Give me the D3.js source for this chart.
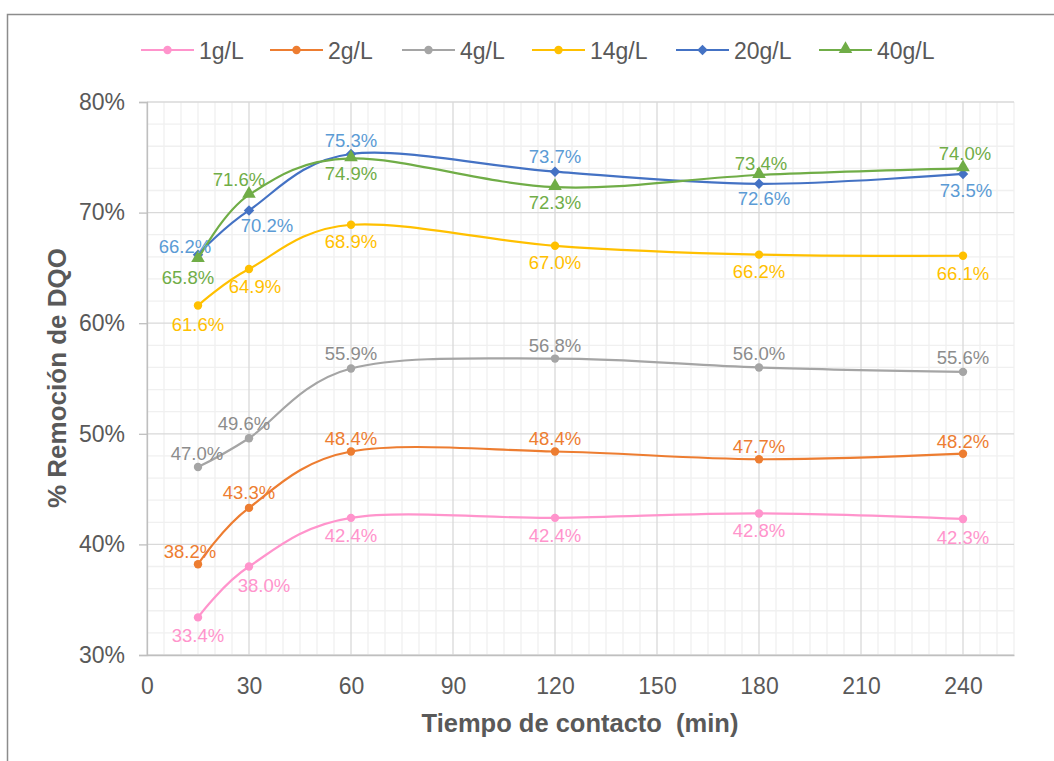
<!DOCTYPE html>
<html>
<head>
<meta charset="utf-8">
<script src="https://cdn.jsdelivr.net/npm/d3@7"></script>
<style>
  html, body { margin: 0; padding: 0; background: #fff; }
  svg { display: block; font-family: "Liberation Sans", Arial, sans-serif; }
</style>
</head>
<body>
<svg id="chart" width="1054" height="761"></svg>
<script>
// Contact time (min) at which samples were taken
const times = [15, 30, 60, 120, 180, 240];

// COD removal (%) for each adsorbent dose
const seriesNames = ["1g/L", "2g/L", "4g/L", "14g/L", "20g/L", "40g/L"];
const dose1 = [33.4, 38.0, 42.4, 42.4, 42.8, 42.3];
const dose2 = [38.2, 43.3, 48.4, 48.4, 47.7, 48.2];
const dose4 = [47.0, 49.6, 55.9, 56.8, 56.0, 55.6];
const dose14 = [61.6, 64.9, 68.9, 67.0, 66.2, 66.1];
const dose20 = [66.2, 70.2, 75.3, 73.7, 72.6, 73.5];
const dose40 = [65.8, 71.6, 74.9, 72.3, 73.4, 74.0];

// Axis ticks
const xTicks = [0, 30, 60, 90, 120, 150, 180, 210, 240];
const yTicks = [30, 40, 50, 60, 70, 80];

// Styling per series
const lineColors = ["#ff94cc", "#ed7d31", "#a5a5a5", "#ffc000", "#4472c4", "#70ad47"];
const labelColors = ["#ff94cc", "#ed7d31", "#8c8c8c", "#ffc000", "#5b9bd5", "#70ad47"];
const markerShapes = ["circle", "circle", "circle", "circle", "diamond", "triangle"];

// Data-label offsets [dx, dy] from the point, per series
const labelOffsets = [
  [[0, 18], [15, 19], [0, 18], [0, 18], [0, 17], [0, 19]],
  [[-8, -13], [0, -15], [0, -13], [0, -13], [0, -13], [0, -12]],
  [[-1, -13], [-5, -15], [0, -15], [0, -13], [0, -14], [0, -14]],
  [[0, 19], [6, 17], [0, 17], [0, 17], [0, 17], [0, 18]],
  [[-13, -8], [18, 15], [0, -13], [0, -15], [5, 15], [3, 17]],
  [[-10, 18], [-10, -15], [0, 15], [0, 15], [2, -11], [2, -15]]
];

const seriesValues = [dose1, dose2, dose4, dose14, dose20, dose40];

const svg = d3.select("#chart");
const W = 1054, H = 761;
const textColor = "#595959";

// Outer chart frame
svg.append("rect")
  .attr("x", 7.5).attr("y", 14.5)
  .attr("width", W + 10).attr("height", H + 10)
  .attr("fill", "#fff")
  .attr("stroke", "#8c8c8c").attr("stroke-width", 1.5);

const plot = { left: 147, right: 1014, top: 102, bottom: 655 };

const x = d3.scaleLinear().domain([0, 255]).range([plot.left, plot.right]);
const y = d3.scaleLinear().domain([30, 80]).range([plot.bottom, plot.top]);

const g = svg.append("g");

// Minor grid
const xMinor = d3.range(0, 256, 5).filter(v => v % 30 !== 0);
const yMinor = d3.range(30, 80.01, 2).filter(v => Math.round(v) % 10 !== 0);
g.selectAll("line.xminor").data(xMinor).join("line")
  .attr("x1", d => x(d)).attr("x2", d => x(d))
  .attr("y1", plot.top).attr("y2", plot.bottom)
  .attr("stroke", "#f0f0f0").attr("stroke-width", 1.3);
g.selectAll("line.yminor").data(yMinor).join("line")
  .attr("x1", plot.left).attr("x2", plot.right)
  .attr("y1", d => y(d)).attr("y2", d => y(d))
  .attr("stroke", "#f0f0f0").attr("stroke-width", 1.3);

// Major grid
g.selectAll("line.xmajor").data(xTicks).join("line")
  .attr("x1", d => x(d)).attr("x2", d => x(d))
  .attr("y1", plot.top).attr("y2", plot.bottom)
  .attr("stroke", "#d9d9d9").attr("stroke-width", 1.3);
g.selectAll("line.ymajor").data(yTicks).join("line")
  .attr("x1", plot.left).attr("x2", plot.right)
  .attr("y1", d => y(d)).attr("y2", d => y(d))
  .attr("stroke", "#d9d9d9").attr("stroke-width", 1.3);

// Axes
const yAxis = d3.axisLeft(y).tickValues(yTicks).tickSize(8).tickPadding(14)
  .tickFormat(d => d + "%");
const yAxisG = svg.append("g").attr("transform", `translate(${plot.left},0)`).call(yAxis);
yAxisG.select(".domain").attr("stroke", "#bfbfbf").attr("stroke-width", 1.3);
yAxisG.selectAll(".tick line").attr("stroke", "#bfbfbf").attr("stroke-width", 1.3);
yAxisG.selectAll(".tick text").attr("fill", textColor).attr("font-size", 23)
  .attr("font-family", "Liberation Sans, Arial, sans-serif");

const xAxis = d3.axisBottom(x).tickValues(xTicks).tickSize(0).tickPadding(23);
const xAxisG = svg.append("g").attr("transform", `translate(0,${plot.bottom})`).call(xAxis);
xAxisG.select(".domain").attr("stroke", "#bfbfbf").attr("stroke-width", 1.3);
xAxisG.selectAll(".tick text").attr("fill", textColor).attr("font-size", 23)
  .attr("font-family", "Liberation Sans, Arial, sans-serif");

// Axis titles
svg.append("text")
  .attr("x", 580).attr("y", 723)
  .attr("text-anchor", "middle").attr("dominant-baseline", "central")
  .attr("font-size", 25.5).attr("font-weight", "bold").attr("fill", textColor)
  .attr("xml:space", "preserve")
  .text("Tiempo de contacto  (min)");
svg.append("text")
  .attr("transform", "translate(57,378) rotate(-90)")
  .attr("text-anchor", "middle").attr("dominant-baseline", "central")
  .attr("font-size", 26).attr("font-weight", "bold").attr("fill", textColor)
  .text("% Remoción de DQO");

// Marker drawing helper
function drawMarker(sel, shape, color) {
  if (shape === "circle") {
    sel.append("circle").attr("r", 4.2).attr("fill", color);
  } else if (shape === "diamond") {
    sel.append("path").attr("d", d3.symbol(d3.symbolDiamond2, 70)()).attr("fill", color);
  } else {
    sel.append("path").attr("d", d3.symbol(d3.symbolTriangle, 80)()).attr("fill", color)
      .attr("transform", "translate(0,-1)");
  }
}

const line = d3.line()
  .x(d => x(d.t)).y(d => y(d.v))
  .curve(d3.curveCatmullRom.alpha(0));

// Lines and markers
seriesValues.forEach((vals, i) => {
  const pts = times.map((t, j) => ({ t, v: vals[j], j }));
  const sg = svg.append("g");
  sg.append("path").datum(pts)
    .attr("d", line)
    .attr("fill", "none")
    .attr("stroke", lineColors[i]).attr("stroke-width", 2.2)
    .attr("stroke-linejoin", "round");
  pts.forEach(p => {
    const m = sg.append("g").attr("transform", `translate(${x(p.t)},${y(p.v)})`);
    drawMarker(m, markerShapes[i], lineColors[i]);
  });
});

// Data labels
seriesValues.forEach((vals, i) => {
  const pts = times.map((t, j) => ({ t, v: vals[j], j }));
  svg.append("g").selectAll("text").data(pts).join("text")
    .attr("x", d => x(d.t) + labelOffsets[i][d.j][0])
    .attr("y", d => y(d.v) + labelOffsets[i][d.j][1])
    .attr("text-anchor", "middle").attr("dominant-baseline", "central")
    .attr("font-size", 18.5).attr("fill", labelColors[i])
    .text(d => d.v.toFixed(1) + "%");
});

// Legend
const legendX = [141, 270, 402, 532, 676, 819];
const legendY = 50;
seriesNames.forEach((name, i) => {
  const lg = svg.append("g").attr("transform", `translate(${legendX[i]},${legendY})`);
  lg.append("line").attr("x1", 0).attr("x2", 53).attr("y1", 0).attr("y2", 0)
    .attr("stroke", lineColors[i]).attr("stroke-width", 2.2);
  const m = lg.append("g").attr("transform", "translate(26.5,0)");
  drawMarker(m, markerShapes[i], lineColors[i]);
  lg.append("text").attr("x", 58).attr("y", 1)
    .attr("dominant-baseline", "central")
    .attr("font-size", 23).attr("fill", textColor)
    .text(name);
});
</script>
</body>
</html>
